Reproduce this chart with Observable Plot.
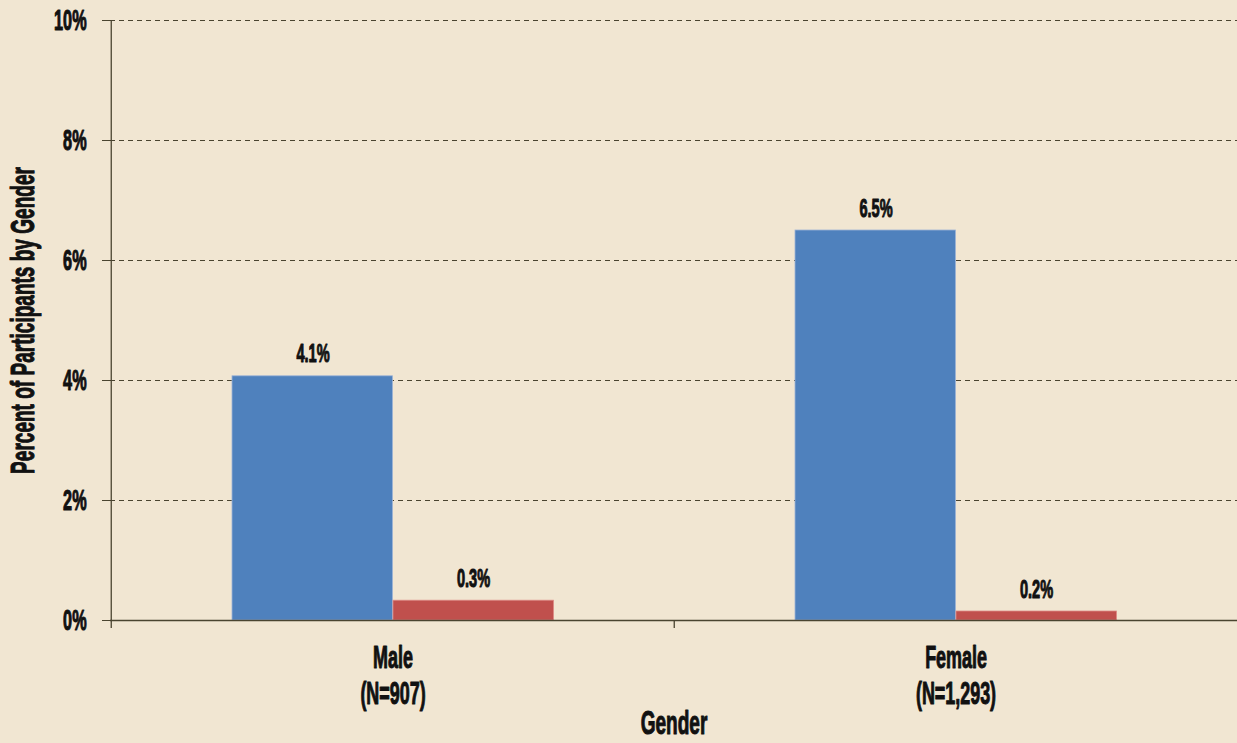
<!DOCTYPE html>
<html>
<head>
<meta charset="utf-8">
<script src="https://cdn.jsdelivr.net/npm/d3@7"></script>
<script src="https://cdn.jsdelivr.net/npm/@observablehq/plot@0.6"></script>
<style>
  html, body { margin: 0; padding: 0; background: #f1e6d2; }
  #chart svg { display: block; }
  #chart svg text { stroke: #111; stroke-width: 1.1px; stroke-linejoin: round; }
</style>
</head>
<body>
<div id="chart"></div>
<script>
// ---- data ----
const genders = ["Male", "Female"];
const genderLabels = ["Male\n(N=907)", "Female\n(N=1,293)"];
const seriesBlue = [4.07, 6.5];
const seriesRed = [0.33, 0.15];
const labelsBlue = ["4.1%", "6.5%"];
const labelsRed = ["0.3%", "0.2%"];
const yTicks = [0, 2, 4, 6, 8, 10];
const yTitle = "Percent of Participants by Gender";
const xTitle = "Gender";

const blueRows = genders.map((g, i) => ({gender: g, value: seriesBlue[i], label: labelsBlue[i]}));
const redRows = genders.map((g, i) => ({gender: g, value: seriesRed[i], label: labelsRed[i]}));
const axisRows = genders.map((g, i) => ({gender: g, label: genderLabels[i]}));

const W = 1237, H = 743, ML = 110, MR = 0, MT = 20, MB = 123;
const bw = (W - ML - MR) / genders.length;
const olive = "#4a4430";
const FONT = "'Liberation Sans', Arial, sans-serif";

const plot = Plot.plot({
  width: W,
  height: H,
  marginLeft: ML,
  marginRight: MR,
  marginTop: MT,
  marginBottom: MB,
  style: {background: "#f1e6d2", fontFamily: FONT, fontWeight: "bold", color: "#111"},
  x: {domain: genders, padding: 0, axis: null},
  y: {domain: [0, 10], axis: null},
  marks: [
    Plot.ruleY(yTicks.filter(d => d > 0), {y: d => d, stroke: olive, strokeWidth: 1, strokeDasharray: "5,4"}),
    Plot.barY(blueRows, {x: "gender", y: "value", fill: "#4f81bd", stroke: "#9db3d6", strokeWidth: 0.8,
      insetLeft: 121, insetRight: 281.5}),
    Plot.barY(redRows, {x: "gender", y: "value", fill: "#c0504d", stroke: "#dc8a86", strokeWidth: 0.8,
      insetLeft: 282, insetRight: 120.5}),
    Plot.ruleY([0], {stroke: olive, strokeWidth: 1.3}),
    // y axis line (left boundary) and group boundary tick
    Plot.ruleX([genders[0]], {x: d => d, dx: -bw / 2, y1: 10, y2: -0.135, stroke: olive, strokeWidth: 1.3}),
    Plot.ruleX([genders[1]], {x: d => d, dx: -bw / 2, y1: 0, y2: -0.135, stroke: olive, strokeWidth: 1.3}),
    Plot.axisY({ticks: yTicks, tickFormat: d => d + "%", tickSize: 8, tickPadding: 16,
      stroke: olive, fill: "#111", fontSize: 29, label: null}),
    Plot.text(blueRows, {x: "gender", y: "value", text: "label", dx: -80, dy: -14,
      lineAnchor: "bottom", fontSize: 26, fill: "#111"}),
    Plot.text(redRows, {x: "gender", y: "value", text: "label", dx: 80.5, dy: -14,
      lineAnchor: "bottom", fontSize: 26, fill: "#111"}),
    Plot.text(axisRows, {x: "gender", y: 0, text: "label", dy: 22, lineAnchor: "top",
      lineHeight: 1.13, fontSize: 32, fill: "#111"}),
    Plot.text([xTitle], {frameAnchor: "bottom", dy: 89, lineAnchor: "top", fontSize: 34, fill: "#111"}),
    Plot.text([yTitle], {frameAnchor: "left", textAnchor: "middle", rotate: -90, dx: -77,
      lineAnchor: "bottom", fontSize: 34, fill: "#111"})
  ]
});

document.getElementById("chart").appendChild(plot);

// condense glyphs horizontally (reference uses a very narrow display face)
function condense(svg, s) {
  svg.querySelectorAll("text").forEach(t => {
    const bb = t.getBBox();
    const anchor = getComputedStyle(t).textAnchor;
    const cx = anchor === "middle" ? bb.x + bb.width / 2 : anchor === "end" ? bb.x + bb.width : bb.x;
    const tr = t.getAttribute("transform") || "";
    t.setAttribute("transform", `${tr} translate(${cx},0) scale(${s},1) translate(${-cx},0)`);
  });
}
condense(plot, 0.56);
</script>
</body>
</html>
